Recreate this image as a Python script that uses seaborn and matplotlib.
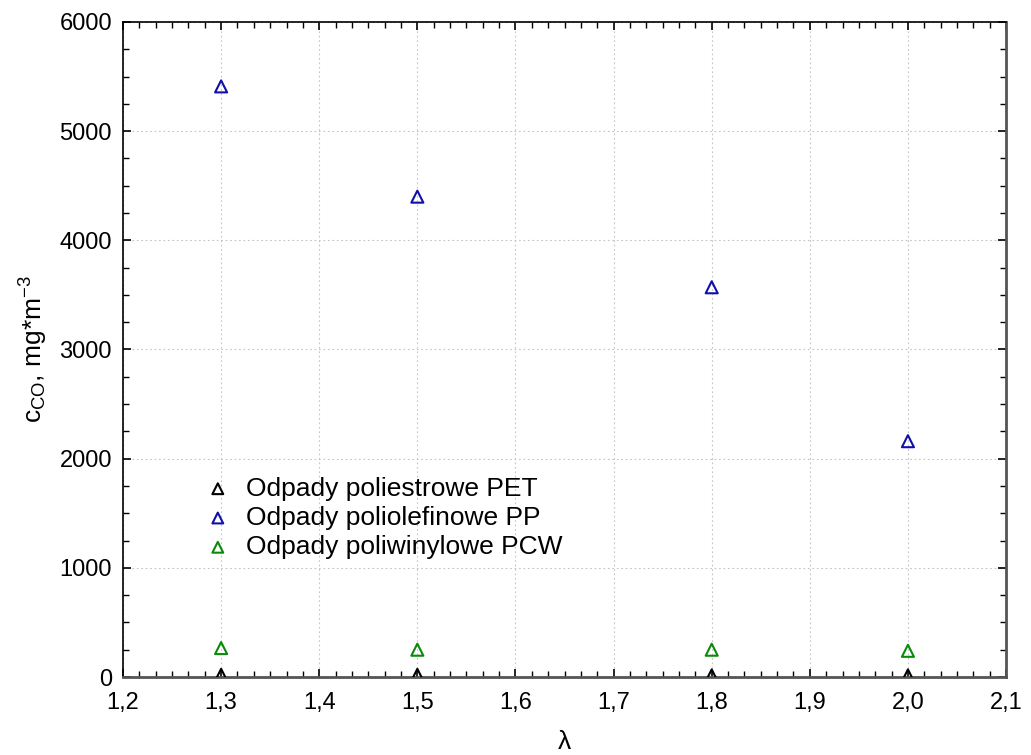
import matplotlib
matplotlib.use("Agg")
import matplotlib.pyplot as plt
import seaborn as sns
import pandas as pd
from matplotlib.ticker import MultipleLocator, AutoMinorLocator, FuncFormatter

# Excess air ratio and CO concentration for three waste types
lam = [1.3, 1.5, 1.8, 2.0]
co_pet = [20, 20, 15, 15]
co_pp = [5410, 4400, 3570, 2160]
co_pcw = [265, 250, 250, 240]

series_names = ["Odpady poliestrowe PET", "Odpady poliolefinowe PP", "Odpady poliwinylowe PCW"]
series_values = [co_pet, co_pp, co_pcw]
series_colors = ["#000000", "#1010A8", "#0A8A0A"]

sns.set_style("white")
plt.rcParams["font.family"] = ["Liberation Sans", "DejaVu Sans"]
plt.rcParams["mathtext.fontset"] = "custom"
plt.rcParams["mathtext.rm"] = "Liberation Sans"
plt.rcParams["mathtext.it"] = "Liberation Sans:italic"
plt.rcParams["text.color"] = "#000000"
plt.rcParams["axes.labelcolor"] = "#000000"

fig = plt.figure(figsize=(10.31, 7.55), dpi=100)
ax = fig.add_axes([0.1193, 0.1033, 0.8565, 0.8676])

for name, vals, col in zip(series_names, series_values, series_colors):
    df = pd.DataFrame({"lam": lam, "co": vals})
    sns.scatterplot(data=df, x="lam", y="co", ax=ax, marker="^", s=75,
                    facecolor="none", edgecolor=col, linewidth=1.5,
                    label=name, zorder=3)

ax.set_xlim(1.2, 2.1)
ax.set_ylim(0, 6000)
ax.xaxis.set_major_locator(MultipleLocator(0.1))
ax.xaxis.set_minor_locator(AutoMinorLocator(6))
ax.yaxis.set_major_locator(MultipleLocator(1000))
ax.yaxis.set_minor_locator(AutoMinorLocator(4))
ax.xaxis.set_major_formatter(FuncFormatter(lambda v, p: f"{v:.1f}".replace(".", ",")))
ax.yaxis.set_major_formatter(FuncFormatter(lambda v, p: f"{v:.0f}"))

ax.tick_params(which="both", direction="in", top=True, right=True,
               bottom=True, left=True, labelsize=17, colors="#000000")
ax.tick_params(which="major", length=6, width=1.2)
ax.tick_params(which="minor", length=4, width=1.0)
ax.tick_params(axis="x", which="major", pad=10.5)
ax.tick_params(axis="y", which="major", pad=8)

ax.grid(True, which="major", linestyle=(0, (1.5, 2.5)), color="#C4C4C4", linewidth=0.8)
for side in ["left", "top"]:
    ax.spines[side].set_color("#000000")
    ax.spines[side].set_linewidth(1.2)
for side in ["right", "bottom"]:
    ax.spines[side].set_color("#555555")
    ax.spines[side].set_linewidth(2.0)

ax.set_xlabel("λ", fontsize=19, labelpad=12)
ax.set_ylabel(r"c$_\mathrm{CO}$, mg*m$^{-3}$", fontsize=19, labelpad=7)

leg = ax.legend(loc="upper left", bbox_to_anchor=(0.073, 0.322), frameon=False,
                fontsize=19, handletextpad=0.3, labelspacing=0.2,
                markerscale=0.9, borderaxespad=0, handlelength=1.5)
for t in leg.get_texts():
    t.set_color("#000000")

fig.savefig("out.png", dpi=100)
